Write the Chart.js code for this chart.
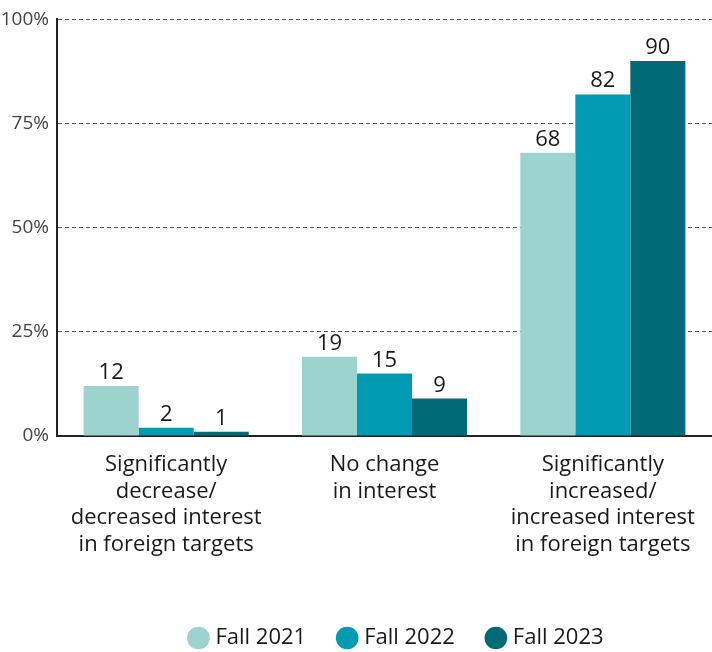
<html>

<head>
    <title>Interest in foreign targets</title>
    <script src="https://cdn.jsdelivr.net/npm/chart.js"></script>
    <style>
        body { margin: 0; background: #fff; }
        #wrap { width: 712px; height: 652px; }
    </style>
</head>

<body>
    <div id="wrap">
        <canvas id="interest"></canvas>
    </div>
</body>
<script>
    const categories = [
        ["Significantly", "decrease/", "decreased interest", "in foreign targets"],
        ["No change", "in interest"],
        ["Significantly", "increased/", "increased interest", "in foreign targets"]
    ];
    const fall2021 = [12, 19, 68];
    const fall2022 = [2, 15, 82];
    const fall2023 = [1, 9, 90];
    const yTicks = [0, 25, 50, 75, 100];

    const FONT = "'Open Sans', 'Noto Sans', sans-serif";

    // numbers above each bar
    const barValues = {
        id: 'barValues',
        afterDatasetsDraw(chart) {
            const ctx = chart.ctx;
            ctx.save();
            ctx.font = `22px ${FONT}`;
            ctx.fillStyle = '#1a1a1a';
            ctx.textAlign = 'center';
            ctx.textBaseline = 'alphabetic';
            chart.data.datasets.forEach((ds, i) => {
                chart.getDatasetMeta(i).data.forEach((bar, j) => {
                    ctx.fillText(ds.data[j], bar.x, bar.y - 7);
                });
            });
            ctx.restore();
        }
    };

    // nudge the legend row right of centre and down toward the bottom edge
    const legendShift = {
        id: 'legendShift',
        afterLayout(chart) {
            const lg = chart.legend;
            const dx = 42, dy = 7;
            lg.left += dx; lg.right += dx;
            lg.top += dy; lg.bottom += dy;
        }
    };

    new Chart(document.getElementById('interest'), {
        type: 'bar',
        data: {
            labels: categories,
            datasets: [
                { label: 'Fall 2021', data: fall2021, backgroundColor: '#9dd3ce' },
                { label: 'Fall 2022', data: fall2022, backgroundColor: '#009ab2' },
                { label: 'Fall 2023', data: fall2023, backgroundColor: '#006a77' }
            ]
        },
        options: {
            responsive: true,
            maintainAspectRatio: false,
            animation: false,
            layout: { padding: { top: 4, right: 0, left: 0, bottom: 0 } },
            datasets: {
                bar: { categoryPercentage: 0.756, barPercentage: 1 }
            },
            plugins: {
                legend: {
                    position: 'bottom',
                    labels: {
                        usePointStyle: true,
                        pointStyle: 'circle',
                        boxWidth: 12,
                        boxHeight: 16,
                        color: '#1a1a1a',
                        font: { family: FONT, size: 22 },
                        padding: 35
                    }
                },
                tooltip: { enabled: false }
            },
            scales: {
                x: {
                    grid: { display: false, drawTicks: false },
                    border: { color: '#222', width: 2 },
                    ticks: {
                        color: '#1a1a1a',
                        font: { family: FONT, size: 22, lineHeight: 1.2 },
                        padding: 16,
                        maxRotation: 0
                    },
                    afterFit(scale) { scale.height = 149; }
                },
                y: {
                    min: 0,
                    max: 100,
                    afterBuildTicks(scale) { scale.ticks = yTicks.map(v => ({ value: v })); },
                    grid: {
                        color: ctx => ctx.tick.value === 0 ? 'rgba(0,0,0,0)' : '#555',
                        drawTicks: false
                    },
                    border: { display: true, color: '#222', width: 2, dash: [4, 3] },
                    ticks: {
                        color: '#444',
                        font: { family: FONT, size: 19 },
                        padding: 8,
                        callback: v => v + '%'
                    },
                    afterFit(scale) { scale.width = 57; }
                }
            }
        },
        plugins: [barValues, legendShift]
    });
</script>

</html>
